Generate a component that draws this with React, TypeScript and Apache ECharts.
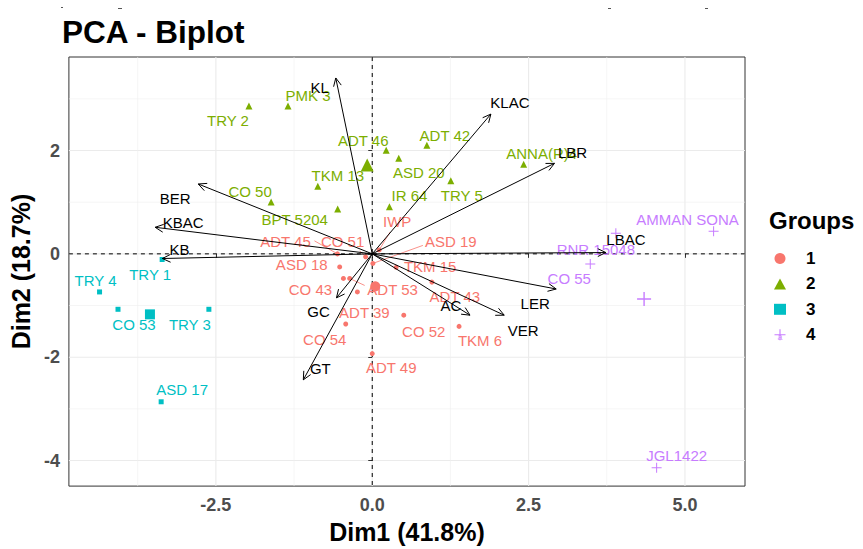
import React, { useEffect, useRef } from "react";
import * as echarts from "echarts";

// ---------- data ----------
const groupNames = ["1", "2", "3", "4"];
const groupColors = ["#F8766D", "#7CAE00", "#00BFC4", "#C77CFF"];

const g1Names = ["ADT 45", "CO 51", "IWP", "ASD 19", "ASD 18", "TKM 15", "CO 43", "ADT 53", "ADT 43", "ADT 39", "CO 52", "TKM 6", "CO 54", "ADT 49"];
const g1X = [-0.556, -0.106, 0.111, 0.01, -0.52, 0.382, -0.461, -0.361, 0.954, -0.238, 0.504, 1.388, -0.424, 0.0];
const g1Y = [0.0, -0.057, 0.076, -0.185, -0.253, -0.261, -0.476, -0.476, -0.547, -0.737, -1.187, -1.404, -1.358, -1.93];

const g2Names = ["TRY 2", "PMK 3", "TKM 13", "CO 50", "BPT 5204", "ADT 46", "ASD 20", "ADT 42", "TRY 5", "IR 64", "ANNA(R)4"];
const g2X = [-1.971, -1.347, -0.87, -1.617, -0.552, 0.223, 0.424, 0.874, 1.256, 0.275, 2.421];
const g2Y = [2.863, 2.863, 1.309, 1.004, 0.87, 2.006, 1.848, 2.101, 1.415, 0.914, 1.733];

const g3Names = ["TRY 1", "TRY 4", "CO 53", "TRY 3", "ASD 17"];
const g3X = [-3.359, -4.36, -4.065, -2.612, -3.375];
const g3Y = [-0.109, -0.737, -1.073, -1.073, -2.863];

const g4Names = ["RNR 15048", "AMMAN SONA", "CO 55", "JGL1422"];
const g4X = [3.895, 5.458, 3.486, 4.547];
const g4Y = [0.4, 0.438, -0.196, -4.139];

const varNames = ["KL", "BER", "KBAC", "KB", "KLAC", "LBR", "LBAC", "LER", "VER", "AC", "GC", "GT"];
const varX = [-0.583, -2.782, -3.471, -3.355, 1.897, 2.914, 3.736, 2.941, 2.11, 1.563, -0.572, -1.102];
const varY = [3.404, 1.352, 0.514, -0.09, 2.705, 1.752, 0.025, -0.68, -1.187, -1.187, -0.851, -2.438];

const xTicks = [-2.5, 0, 2.5, 5];
const yTicks = [-4, -2, 0, 2];
const xMinor = [-3.75, -1.25, 1.25, 3.75];
const yMinor = [-3, -1, 1, 3];

// ---------- layout (label offsets in px, repel-like) ----------
const g1Off = [[-52, -12], [-23, -15], [18, -28], [78, -22], [-38, -2], [34, -1], [-33, 11], [43, 11], [23, 14], [7, 21], [20, 16], [21, 14], [-21, 15], [19, 14]];
const g2Off = [[-21, 15], [20, -10], [20, -11], [-21, -10], [-43, 11], [-23, -10], [20, 14], [18, -10], [11, 15], [20, -11], [18, -11]];
const g3Off = [[-12, 15], [-4, -11], [16, 15], [-19, 15], [21, -12]];
const g4Off = [[-20, 16], [-26, -12], [-21, 15], [20, -12]];
const varOff = [[-16, 10], [-23, 15], [28, -5], [17, -9], [19, -12], [18, -11], [20, -13], [-21, 15], [19, 15], [-19, -10], [-18, 14], [17, -11]];
// segments: [group, index, endDx, endDy]
const segs = [[0, 0, -23, -13], [0, 1, -6, -6], [0, 2, 11, -18], [0, 3, 50, -18], [0, 7, 15, 7]];

const FONT = "'Liberation Sans', Arial, sans-serif";
const PLUS = "path://M0,0.45H1V0.55H0Z M0.45,0H0.55V1H0.45Z";

const groups = [
  { names: g1Names, xs: g1X, ys: g1Y, off: g1Off, symbol: "circle", size: 5, meanSize: 10 },
  { names: g2Names, xs: g2X, ys: g2Y, off: g2Off, symbol: "triangle", size: 7, meanSize: 13 },
  { names: g3Names, xs: g3X, ys: g3Y, off: g3Off, symbol: "rect", size: 5, meanSize: 10 },
  { names: g4Names, xs: g4X, ys: g4Y, off: g4Off, symbol: PLUS, size: 10, meanSize: 14 },
];

const mean = (a: number[]) => a.reduce((s, v) => s + v, 0) / a.length;

export default function App() {
  const ref = useRef<HTMLDivElement>(null);
  useEffect(() => {
    if (!ref.current) return;
    const chart = echarts.init(ref.current, undefined, { renderer: "svg" });

    const scatterSeries = groups.map((g, gi) => ({
      type: "scatter",
      name: groupNames[gi],
      symbol: g.symbol,
      symbolSize: g.size,
      z: 3,
      itemStyle: { color: groupColors[gi], opacity: 1 },
      label: {
        show: true,
        position: "inside",
        formatter: "{b}",
        color: groupColors[gi],
        fontSize: 15,
        fontFamily: FONT,
      },
      emphasis: { disabled: true },
      data: [
        ...g.names.map((n, i) => ({
          name: n,
          value: [g.xs[i], g.ys[i]],
          label: { offset: g.off[i] },
        })),
        {
          name: "mean" + gi,
          value: [mean(g.xs), mean(g.ys)],
          symbolSize: g.meanSize,
          label: { show: false },
        },
      ],
    }));

    // grid lines + origin lines: kind 0 major-x, 1 major-y, 2 minor-x, 3 minor-y, 4 zero-x, 5 zero-y
    const gridData: number[][] = [
      ...xTicks.map((v) => [v, 0, 0]),
      ...yTicks.map((v) => [0, v, 1]),
      ...xMinor.map((v) => [v, 0, 2]),
      ...yMinor.map((v) => [0, v, 3]),
    ];
    const zeroData: number[][] = [[0, 0, 4], [0, 0, 5]];

    const lineRender = (params: any, api: any) => {
      const cs = params.coordSys;
      const kind = api.value(2);
      const p = api.coord([api.value(0), api.value(1)]);
      const vertical = kind % 2 === 0;
      const shape = vertical
        ? { x1: p[0], y1: cs.y, x2: p[0], y2: cs.y + cs.height }
        : { x1: cs.x, y1: p[1], x2: cs.x + cs.width, y2: p[1] };
      let style: any;
      if (kind <= 1) style = { stroke: "#EBEBEB", lineWidth: 1.1 };
      else if (kind <= 3) style = { stroke: "#EFEFEF", lineWidth: 0.6 };
      else style = { stroke: "#000", lineWidth: 1, lineDash: [4, 4] };
      return { type: "line", shape, style };
    };

    const segData = segs.map((s) => {
      const g = groups[s[0]];
      return [g.xs[s[1]], g.ys[s[1]], s[0], s[2], s[3]];
    });

    const option: any = {
      animation: false,
      backgroundColor: "#fff",
      title: {
        text: "PCA - Biplot",
        left: 62,
        top: 16,
        padding: 0,
        textStyle: { fontSize: 31.5, fontWeight: "bold", color: "#000", fontFamily: FONT },
      },
      legend: {
        orient: "vertical",
        left: 774,
        top: 250,
        itemWidth: 12,
        itemHeight: 11,
        itemGap: 8.4,
        padding: 0,
        selectedMode: false,
        textStyle: { fontSize: 17, fontWeight: "bold", color: "#000", fontFamily: FONT, padding: [0, 0, 0, 15] },
        data: groupNames.map((n, i) => ({ name: n, icon: ["circle", "triangle", "rect", PLUS][i] })),
      },
      graphic: [
        {
          type: "text",
          left: 769,
          top: 208,
          style: { text: "Groups", fontSize: 24, fontWeight: "bold", fill: "#000", fontFamily: FONT },
        },
        { type: "rect", left: 61, top: 7, shape: { width: 2, height: 1 }, style: { fill: "#555" } },
        { type: "rect", left: 118, top: 8, shape: { width: 4, height: 1 }, style: { fill: "#555" } },
        { type: "rect", left: 608, top: 8, shape: { width: 3, height: 1 }, style: { fill: "#555" } },
        { type: "rect", left: 705, top: 8, shape: { width: 3, height: 1 }, style: { fill: "#555" } },
      ],
      grid: {
        left: 65,
        right: 118,
        top: 57,
        bottom: 56,
        show: true,
        backgroundColor: "#fff",
        borderColor: "#333",
        borderWidth: 1,
        containLabel: false,
      },
      xAxis: {
        type: "value",
        min: -4.85,
        max: 5.96,
        name: "Dim1 (41.8%)",
        nameLocation: "middle",
        nameGap: 31,
        nameTextStyle: { fontSize: 25, fontWeight: "bold", color: "#000", fontFamily: FONT },
        axisLine: { show: false },
        axisTick: { show: true, customValues: xTicks, length: 4, lineStyle: { color: "#333" } },
        axisLabel: {
          customValues: xTicks,
          margin: 10,
          fontSize: 18,
          fontWeight: "bold",
          color: "#4D4D4D",
          fontFamily: FONT,
          formatter: (v: number) => v.toFixed(1),
        },
        splitLine: { show: false },
      },
      yAxis: {
        type: "value",
        min: -4.495,
        max: 3.81,
        name: "Dim2 (18.7%)",
        nameLocation: "middle",
        nameGap: 32,
        nameTextStyle: { fontSize: 25, fontWeight: "bold", color: "#000", fontFamily: FONT },
        axisLine: { show: false },
        axisTick: { show: true, customValues: yTicks, length: 4, lineStyle: { color: "#333" } },
        axisLabel: {
          customValues: yTicks,
          margin: 9,
          fontSize: 18,
          fontWeight: "bold",
          color: "#4D4D4D",
          fontFamily: FONT,
          formatter: (v: number) => String(Math.round(v)),
        },
        splitLine: { show: false },
      },
      series: [
        {
          type: "custom",
          coordinateSystem: "cartesian2d",
          z: 0,
          silent: true,
          renderItem: lineRender,
          data: gridData,
        },
        {
          type: "custom",
          coordinateSystem: "cartesian2d",
          z: 1,
          silent: true,
          renderItem: lineRender,
          data: zeroData,
        },
        {
          type: "custom",
          coordinateSystem: "cartesian2d",
          z: 2,
          silent: true,
          renderItem: (params: any, api: any) => {
            const p = api.coord([api.value(0), api.value(1)]);
            const gi = api.value(2);
            return {
              type: "line",
              shape: { x1: p[0], y1: p[1], x2: p[0] + api.value(3), y2: p[1] + api.value(4) },
              style: { stroke: groupColors[gi], lineWidth: 0.8 },
            };
          },
          data: segData,
        },
        ...scatterSeries,
        {
          type: "custom",
          coordinateSystem: "cartesian2d",
          z: 4,
          silent: true,
          renderItem: (params: any, api: any) => {
            const o = api.coord([0, 0]);
            const t = api.coord([api.value(0), api.value(1)]);
            const idx = api.value(2);
            const ang = Math.atan2(t[1] - o[1], t[0] - o[0]);
            const L = 9;
            const a = Math.PI / 7;
            const p1 = [t[0] - L * Math.cos(ang - a), t[1] - L * Math.sin(ang - a)];
            const p2 = [t[0] - L * Math.cos(ang + a), t[1] - L * Math.sin(ang + a)];
            const off = varOff[idx];
            return {
              type: "group",
              children: [
                { type: "line", shape: { x1: o[0], y1: o[1], x2: t[0], y2: t[1] }, style: { stroke: "#000", lineWidth: 1 } },
                { type: "polyline", shape: { points: [p1, t, p2] }, style: { stroke: "#000", fill: null, lineWidth: 1 } },
                {
                  type: "text",
                  x: t[0] + off[0],
                  y: t[1] + off[1],
                  style: {
                    text: varNames[idx],
                    fill: "#000",
                    fontSize: 15,
                    fontFamily: FONT,
                    align: "center",
                    verticalAlign: "middle",
                  },
                },
              ],
            };
          },
          data: varX.map((x, i) => [x, varY[i], i]),
        },
      ],
    };
    // legend "a" key glyphs
    groupNames.forEach((_, i) => {
      option.graphic.push({
        type: "text",
        x: 780,
        y: 260 + i * 25.7,
        z: -1,
        style: { text: "a", fontSize: 9, fill: groupColors[i], fontFamily: FONT, align: "center", verticalAlign: "middle", opacity: 0.8 },
      });
    });

    chart.setOption(option);
    return () => chart.dispose();
  }, []);

  return <div ref={ref} style={{ position: "absolute", left: 0, top: 0, width: 863, height: 549 }} />;
}
